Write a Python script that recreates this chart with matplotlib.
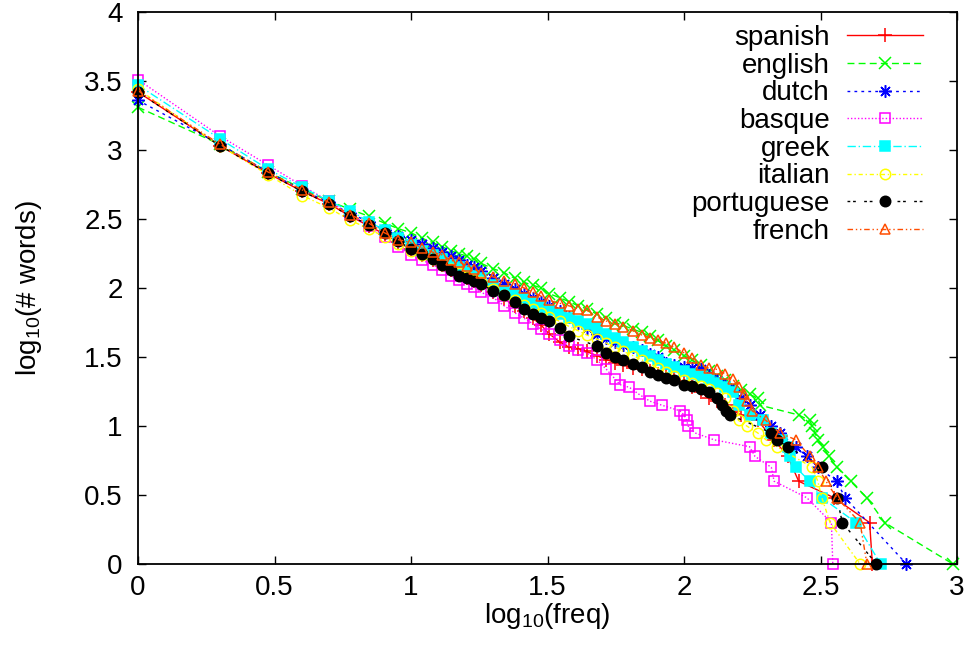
import matplotlib
matplotlib.use("Agg")
import matplotlib.pyplot as plt

plt.rcParams['font.family'] = ['Liberation Sans', 'DejaVu Sans']
plt.rcParams['mathtext.fontset'] = 'custom'
plt.rcParams['mathtext.rm'] = 'Liberation Sans'
plt.rcParams['mathtext.default'] = 'regular'

# shared x positions (log10 freq) of the dense part of the curves
body_x = [0.0, 0.301, 0.477, 0.602, 0.699, 0.778, 0.845, 0.903, 0.954, 1.0,
          1.041, 1.079, 1.114, 1.146, 1.176, 1.204, 1.230, 1.255, 1.301, 1.342,
          1.380, 1.415, 1.447, 1.477, 1.505, 1.544, 1.580, 1.613, 1.643, 1.681,
          1.716, 1.748, 1.778, 1.813, 1.845, 1.875, 1.903, 1.934, 1.964, 2.0,
          2.029, 2.061, 2.090, 2.121, 2.149, 2.179, 2.210, 2.241]

spanish_x = body_x[:46] + [2.21, 2.27, 2.33, 2.38, 2.42, 2.55, 2.68, 2.69]
spanish_y = [3.42, 3.03, 2.83, 2.70, 2.61, 2.52, 2.45, 2.39, 2.33, 2.28,
             2.24, 2.20, 2.17, 2.13, 2.10, 2.07, 2.05, 2.02, 1.97, 1.92,
             1.87, 1.83, 1.78, 1.73, 1.67, 1.61, 1.57, 1.56, 1.54, 1.51,
             1.48, 1.46, 1.44, 1.42, 1.41, 1.40, 1.38, 1.36, 1.34, 1.32,
             1.28, 1.25, 1.20, 1.18, 1.15, 1.11,
             1.08, 1.04, 0.90, 0.78, 0.60, 0.48, 0.30, 0.0]

english_x = body_x[:48] + [2.27, 2.28, 2.42, 2.46, 2.47, 2.48, 2.49, 2.51,
                           2.53, 2.56, 2.61, 2.67, 2.735, 2.985]
english_y = [3.31, 3.04, 2.84, 2.72, 2.63, 2.57, 2.52, 2.47, 2.43, 2.40,
             2.36, 2.33, 2.30, 2.27, 2.25, 2.23, 2.21, 2.18, 2.14, 2.11,
             2.07, 2.04, 2.02, 2.00, 1.96, 1.93, 1.90, 1.87, 1.85, 1.81,
             1.78, 1.75, 1.73, 1.70, 1.68, 1.65, 1.62, 1.58, 1.55, 1.51,
             1.48, 1.44, 1.40, 1.36, 1.33, 1.29, 1.26, 1.23,
             1.20, 1.15, 1.08, 1.04, 1.00, 0.95, 0.90, 0.85,
             0.78, 0.70, 0.60, 0.48, 0.30, 0.0]

dutch_x = body_x[:47] + [2.24, 2.28, 2.32, 2.35, 2.41, 2.45, 2.49, 2.56, 2.59, 2.815]
dutch_y = [3.36, 3.04, 2.84, 2.71, 2.62, 2.54, 2.48, 2.42, 2.38, 2.35,
           2.32, 2.29, 2.26, 2.23, 2.20, 2.17, 2.15, 2.12, 2.07, 2.03,
           1.99, 1.96, 1.93, 1.90, 1.87, 1.83, 1.79, 1.75, 1.71, 1.67,
           1.64, 1.61, 1.59, 1.57, 1.55, 1.52, 1.50, 1.46, 1.44, 1.43,
           1.42, 1.41, 1.37, 1.33, 1.30, 1.26, 1.20,
           1.15, 1.08, 1.00, 0.95, 0.85, 0.78, 0.70, 0.60, 0.48, 0.0]

basque_x = body_x[:32] + [1.765, 1.80, 1.835, 1.875, 1.92, 1.985, 2.00, 2.01,
                          2.015, 2.04, 2.11, 2.24, 2.26, 2.32, 2.33, 2.45, 2.54, 2.545]
basque_y = [3.51, 3.10, 2.89, 2.74, 2.63, 2.53, 2.45, 2.37, 2.30, 2.24,
            2.20, 2.17, 2.13, 2.09, 2.06, 2.03, 2.01, 1.97, 1.93, 1.87,
            1.82, 1.78, 1.74, 1.70, 1.67, 1.62, 1.58, 1.55, 1.53, 1.48,
            1.41, 1.34,
            1.30, 1.28, 1.23, 1.18, 1.15, 1.11, 1.08, 1.04,
            1.00, 0.95, 0.90, 0.85, 0.78, 0.70, 0.60, 0.48, 0.30, 0.0]

greek_x = body_x[:46] + [2.20, 2.24, 2.29, 2.32, 2.36, 2.38, 2.39, 2.41,
                         2.46, 2.505, 2.63, 2.72]
greek_y = [3.47, 3.08, 2.86, 2.73, 2.63, 2.56, 2.48, 2.42, 2.36, 2.31,
           2.27, 2.24, 2.21, 2.17, 2.15, 2.12, 2.09, 2.07, 2.02, 1.98,
           1.95, 1.92, 1.89, 1.86, 1.84, 1.81, 1.78, 1.76, 1.74, 1.71,
           1.67, 1.64, 1.61, 1.57, 1.54, 1.51, 1.48, 1.45, 1.43, 1.40,
           1.38, 1.36, 1.34, 1.31, 1.28, 1.25,
           1.15, 1.08, 1.04, 0.95, 0.90, 0.85, 0.78, 0.70, 0.60, 0.48, 0.30, 0.0]

italian_x = body_x[:45] + [2.18, 2.20, 2.23, 2.27, 2.30, 2.34, 2.47, 2.49,
                           2.505, 2.535, 2.645]
italian_y = [3.44, 3.03, 2.82, 2.67, 2.58, 2.49, 2.43, 2.37, 2.32, 2.27,
             2.24, 2.21, 2.17, 2.14, 2.11, 2.08, 2.06, 2.04, 1.99, 1.95,
             1.91, 1.88, 1.85, 1.82, 1.79, 1.76, 1.72, 1.69, 1.66, 1.63,
             1.60, 1.57, 1.54, 1.51, 1.48, 1.45, 1.42, 1.39, 1.36, 1.33,
             1.31, 1.29, 1.27, 1.24, 1.20,
             1.11, 1.04, 1.00, 0.95, 0.90, 0.85, 0.70, 0.60, 0.48, 0.30, 0.0]

portuguese_x = body_x[:27] + body_x[29:44] + [2.14, 2.155, 2.17, 2.32, 2.34, 2.38,
                                              2.505, 2.56, 2.58, 2.705]
portuguese_y = [3.42, 3.03, 2.83, 2.70, 2.61, 2.52, 2.46, 2.40, 2.34, 2.28,
                2.25, 2.21, 2.17, 2.13, 2.09, 2.07, 2.05, 2.03, 1.98, 1.95,
                1.90, 1.85, 1.81, 1.78, 1.76, 1.71, 1.65,
                1.58, 1.53, 1.50, 1.48, 1.45, 1.43, 1.39, 1.37, 1.35, 1.33,
                1.30, 1.29, 1.27, 1.25, 1.20,
                1.15, 1.11, 1.08, 0.95, 0.90, 0.85, 0.70, 0.48, 0.30, 0.0]

french_x = body_x[:45] + [2.179, 2.20, 2.22, 2.23, 2.25, 2.30, 2.35, 2.41,
                          2.46, 2.49, 2.52, 2.56, 2.645, 2.67]
french_y = [3.43, 3.04, 2.84, 2.71, 2.62, 2.53, 2.47, 2.40, 2.35, 2.33,
            2.29, 2.26, 2.24, 2.20, 2.19, 2.16, 2.14, 2.11, 2.08, 2.05,
            2.03, 2.00, 1.97, 1.94, 1.91, 1.89, 1.87, 1.85, 1.84, 1.79,
            1.76, 1.74, 1.72, 1.69, 1.66, 1.64, 1.62, 1.60, 1.57, 1.53,
            1.49, 1.44, 1.42, 1.41, 1.38,
            1.34, 1.28, 1.23, 1.18, 1.11, 1.04, 0.95, 0.90, 0.78, 0.70,
            0.60, 0.48, 0.30, 0.0]

languages = ["spanish", "english", "dutch", "basque", "greek", "italian",
             "portuguese", "french"]
xs = [spanish_x, english_x, dutch_x, basque_x, greek_x, italian_x,
      portuguese_x, french_x]
ys = [spanish_y, english_y, dutch_y, basque_y, greek_y, italian_y,
      portuguese_y, french_y]

colors = ['#ff0000', '#00ff00', '#0000ff', '#ff00ff', '#00ffff', '#ffff00',
          '#000000', '#ff4d00']
styles = ['-', (0, (5, 3)), (0, (2, 3)), (0, (1, 1.5)), (0, (6, 2, 1, 2)),
          (0, (3, 2, 1, 2)), (0, (2, 2, 2, 6)), (0, (4, 2, 1, 2, 1, 2))]
markers = ['+', 'x', (8, 2, 0), 's', 's', 'o', 'o', '^']
filled = [True, True, True, False, True, False, True, False]
msizes = [10, 8, 9, 7, 7, 7.5, 7.5, 7.5]

FS = 20

fig = plt.figure(figsize=(9.71, 6.52), dpi=100)
ax = fig.add_axes([138 / 971, 1 - 564 / 652, (957 - 138) / 971, (564 - 12) / 652])

for name, x, y, c, ls, m, f, ms in zip(languages, xs, ys, colors, styles,
                                        markers, filled, msizes):
    ax.plot(x, y, color=c, linestyle=ls, linewidth=1.0, marker=m,
            markersize=ms, markerfacecolor=c if f else 'none',
            markeredgecolor=c, markeredgewidth=1.1, clip_on=False, label=name)

ax.set_xlim(0, 3)
ax.set_ylim(0, 4)
ax.set_xticks([0, 0.5, 1, 1.5, 2, 2.5, 3])
ax.set_xticklabels(["0", "0.5", "1", "1.5", "2", "2.5", "3"])
ax.set_yticks([0, 0.5, 1, 1.5, 2, 2.5, 3, 3.5, 4])
ax.set_yticklabels(["0", "0.5", "1", "1.5", "2", "2.5", "3", "3.5", "4"])
ax.tick_params(direction='in', length=6, width=1.0, top=True, right=True,
               labelsize=FS)
ax.tick_params(axis='y', pad=11)
ax.tick_params(axis='x', pad=8)
for s in ax.spines.values():
    s.set_linewidth(1.3)

ax.set_xlabel("log$_{10}$(freq)", fontsize=FS, labelpad=0)
ax.set_ylabel("log$_{10}$(# words)", fontsize=FS, labelpad=29)

leg = ax.legend(loc='upper right', bbox_to_anchor=(923 / 971, 1 - 25 / 652),
                bbox_transform=fig.transFigure, frameon=False, markerfirst=False,
                fontsize=FS, handlelength=2.75, handletextpad=0.6,
                labelspacing=0.06, borderpad=0, borderaxespad=0)

fig.savefig("out.png", dpi=100)
